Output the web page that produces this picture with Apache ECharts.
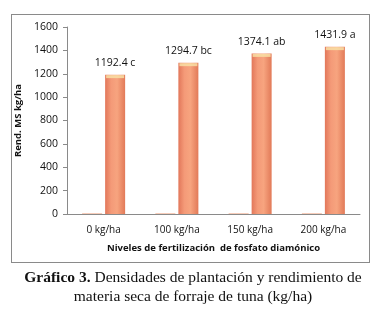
<!DOCTYPE html>
<html>
<head>
<meta charset="utf-8">
<script src="https://cdn.jsdelivr.net/npm/echarts@6/dist/echarts.min.js"></script>
<style>
  html, body { margin: 0; padding: 0; background: #fff; }
  #wrap { position: relative; width: 386px; height: 317px; }
  #chart { width: 386px; height: 317px; }
  #marco { position: absolute; left: 11px; top: 14px; width: 357px; height: 247px; border: 1px solid #8a8a8a; pointer-events: none; }
</style>
</head>
<body>
<div id="wrap">
<div id="chart"></div>
<div id="marco"></div>
</div>
<script>
// datos del gráfico
var categorias = ['0 kg/ha', '100 kg/ha', '150 kg/ha', '200 kg/ha'];
var serieBaja = [5, 5, 5, 5];
var rendimiento = [1192.4, 1294.7, 1374.1, 1431.9];
var letras = ['c', 'bc', 'ab', 'a'];

var myChart = echarts.init(document.getElementById('chart'));

var barraNaranja = new echarts.graphic.LinearGradient(0, 0, 1, 0, [
	{offset: 0, color: '#E2775A'},
	{offset: 0.3, color: '#F49A78'},
	{offset: 0.6, color: '#F7A47F'},
	{offset: 1, color: '#E27A58'}
]);

var option = {
	animation: false,
	title: {
		text: '{b|Gráfico 3.} Densidades de plantación y rendimiento de\nmateria seca de forraje de tuna (kg/ha)',
		left: 'center',
		top: 263,
		textStyle: {
			fontFamily: 'Liberation Serif',
			fontSize: 15.5,
			fontWeight: 'normal',
			color: '#111',
			lineHeight: 19,
			align: 'center',
			rich: {
				b: {fontFamily: 'Liberation Serif', fontSize: 15.5, fontWeight: 'bold', color: '#111'}
			}
		}
	},
	grid: {left: 67, right: 26, top: 27, bottom: 103},
	xAxis: {
		type: 'category',
		data: categorias,
		axisLine: {lineStyle: {color: '#8a8a8a'}},
		axisTick: {show: false},
		axisLabel: {fontFamily: 'Open Sans', fontSize: 10, color: '#111', margin: 11},
		name: 'Niveles de fertilización  de fosfato diamónico',
		nameLocation: 'middle',
		nameGap: 29,
		nameTextStyle: {fontFamily: 'Open Sans', fontSize: 9.5, fontWeight: 'bold', color: '#111'}
	},
	yAxis: {
		type: 'value',
		min: 0,
		max: 1600,
		interval: 200,
		splitLine: {show: false},
		axisLine: {show: true, lineStyle: {color: '#8a8a8a'}},
		axisTick: {show: true, length: 4, lineStyle: {color: '#8a8a8a'}},
		axisLabel: {
			fontFamily: 'Open Sans', fontSize: 10.5, color: '#111', margin: 9,
			formatter: function (v) { return String(v); }
		},
		name: 'Rend. MS kg/ha',
		nameLocation: 'middle',
		nameGap: 38,
		nameTextStyle: {fontFamily: 'Open Sans', fontSize: 9.5, fontWeight: 'bold', color: '#111'}
	},
	series: [
		{
			type: 'bar',
			data: serieBaja,
			barWidth: 20,
			barGap: '15%',
			itemStyle: {color: '#F0A888'}
		},
		{
			type: 'bar',
			data: rendimiento,
			barWidth: 20,
			itemStyle: {color: barraNaranja},
			label: {
				show: true,
				position: 'top',
				distance: 6,
				fontFamily: 'Open Sans',
				fontSize: 10.5,
				color: '#111',
				formatter: function (p) {
					return p.value + ' ' + letras[p.dataIndex];
				}
			}
		},
		{
			// tapa clara superior de cada barra
			type: 'scatter',
			data: rendimiento.map(function (v, i) { return [i, v]; }),
			symbol: 'rect',
			symbolSize: [18, 3],
			symbolOffset: [11.5, 2],
			itemStyle: {color: '#F9E3A8'},
			silent: true
		}
	]
};

myChart.setOption(option);
</script>
</body>
</html>
